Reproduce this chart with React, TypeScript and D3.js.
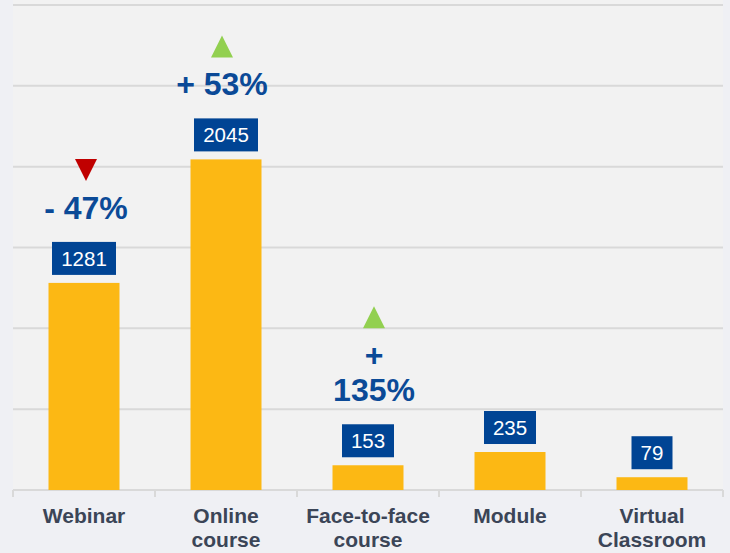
import React, { useEffect, useRef } from "react";
import * as d3 from "d3";

const categories: string[][] = [
  ["Webinar"],
  ["Online", "course"],
  ["Face-to-face", "course"],
  ["Module"],
  ["Virtual", "Classroom"],
];
const values: number[] = [1281, 2045, 153, 235, 79];
const changeLabels: (string[] | null)[] = [["- 47%"], ["+ 53%"], ["+", "135%"], null, null];
const changeDirections: (string | null)[] = ["down", "up", "up", null, null];
const yTicks: number[] = [500, 1000, 1500, 2000, 2500, 3000];

// small horizontal nudges of the hand-placed change annotations (px)
const annotationNudge = [2, -4, 6, 0, 0];

const W = 730;
const H = 553;
const FONT = "'Liberation Sans', Arial, Helvetica, sans-serif";

export default function App() {
  const ref = useRef<SVGSVGElement | null>(null);

  useEffect(() => {
    const svg = d3.select(ref.current);
    svg.selectAll("*").remove();

    const left = 13, right = 723, top = 5, bottom = 490;
    const x = d3.scaleBand<number>().domain(d3.range(values.length)).range([left, right]).paddingInner(0).paddingOuter(0);
    const y = d3.scaleLinear().domain([0, 3000]).range([bottom, top]);
    const bw = x.bandwidth();
    const barW = bw / 2;

    svg.append("rect").attr("x", 0).attr("y", 0).attr("width", W).attr("height", H).attr("fill", "#eff0f4");
    svg.append("rect").attr("x", left).attr("y", 0).attr("width", right - left).attr("height", bottom).attr("fill", "#f2f2f2");

    // gridlines
    svg.append("g").selectAll("line").data(yTicks).join("line")
      .attr("x1", left).attr("x2", right)
      .attr("y1", (d) => y(d)).attr("y2", (d) => y(d))
      .attr("stroke", "#d9d9d9").attr("stroke-width", 2);

    // axis
    svg.append("line").attr("x1", left).attr("x2", right).attr("y1", bottom).attr("y2", bottom)
      .attr("stroke", "#d9d9d9").attr("stroke-width", 2);
    const bounds = d3.range(values.length + 1).map((i) => (i < values.length ? (x(i) as number) : right));
    svg.append("g").selectAll("line").data(bounds).join("line")
      .attr("x1", (d) => d).attr("x2", (d) => d)
      .attr("y1", bottom).attr("y2", bottom + 7)
      .attr("stroke", "#d9d9d9").attr("stroke-width", 2);

    // bars
    svg.append("g").selectAll("rect").data(values).join("rect")
      .attr("x", (_d, i) => (x(i) as number) + (bw - barW) / 2)
      .attr("y", (d) => y(d))
      .attr("width", barW)
      .attr("height", (d) => bottom - y(d))
      .attr("fill", "#fcb814");

    // value boxes
    values.forEach((v, i) => {
      const cx = (x(i) as number) + bw / 2;
      const barTop = y(v);
      const g = svg.append("g");
      const t = g.append("text")
        .attr("x", cx).attr("y", barTop - 41 + 24)
        .attr("text-anchor", "middle")
        .attr("font-family", FONT).attr("font-size", 20.5)
        .attr("fill", "#ffffff")
        .text(String(v));
      const tw = (t.node() as SVGTextElement).getComputedTextLength();
      const bwBox = Math.round(tw + 18);
      g.insert("rect", "text")
        .attr("x", cx - bwBox / 2).attr("y", barTop - 41)
        .attr("width", bwBox).attr("height", 33)
        .attr("fill", "#004494");
    });

    // change annotations
    changeLabels.forEach((lines, i) => {
      if (!lines) return;
      const cx = (x(i) as number) + bw / 2 + annotationNudge[i];
      const barTop = y(values[i]);
      const lastBase = barTop - 64;
      const lh = 35;
      const firstBase = lastBase - lh * (lines.length - 1);
      const t = svg.append("text")
        .attr("text-anchor", "middle")
        .attr("font-family", FONT).attr("font-size", 32).attr("font-weight", "bold")
        .attr("fill", "#0b4a97");
      lines.forEach((ln, k) => {
        t.append("tspan").attr("x", cx).attr("y", firstBase + k * lh).text(ln);
      });
      const triTop = firstBase - 60;
      const s = 22;
      const dir = changeDirections[i];
      const pts = dir === "up"
        ? [[cx - s / 2, triTop + s], [cx + s / 2, triTop + s], [cx, triTop]]
        : [[cx - s / 2, triTop], [cx + s / 2, triTop], [cx, triTop + s]];
      svg.append("path")
        .attr("d", d3.line()(pts as [number, number][]) + "Z")
        .attr("fill", dir === "up" ? "#92d050" : "#c00000");
    });

    // category labels
    categories.forEach((lines, i) => {
      const cx = (x(i) as number) + bw / 2;
      const t = svg.append("text")
        .attr("text-anchor", "middle")
        .attr("font-family", FONT).attr("font-size", 21).attr("font-weight", "bold")
        .attr("fill", "#3b4557");
      lines.forEach((ln, k) => {
        t.append("tspan").attr("x", cx).attr("y", 523 + k * 24).text(ln);
      });
    });
  }, []);

  return (
    <svg
      ref={ref}
      width={W}
      height={H}
      style={{ position: "absolute", left: 0, top: 0, display: "block" }}
    />
  );
}
